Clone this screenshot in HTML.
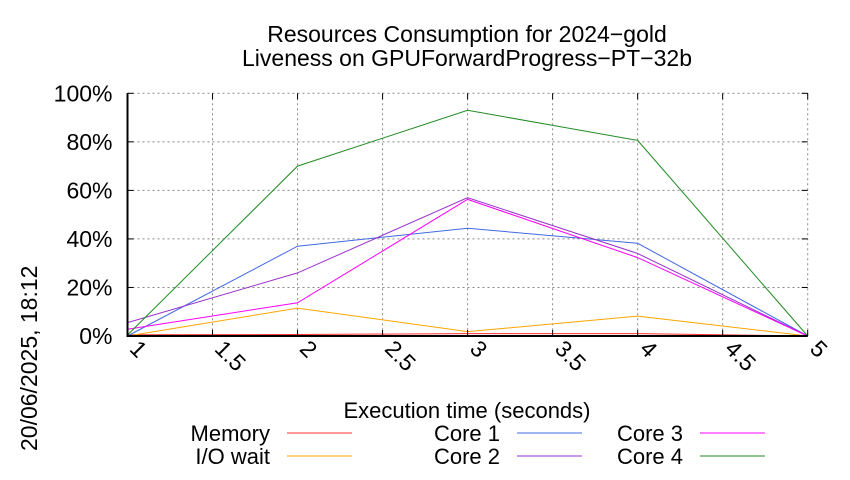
<!DOCTYPE html>
<html><head><meta charset="utf-8"><style>
body{margin:0;background:#fff;}
svg{font-family:"Liberation Sans",sans-serif;}
</style></head><body>
<svg id="chart" width="850" height="475" viewBox="0 0 850 475" xmlns="http://www.w3.org/2000/svg">
<g id="grid"></g>
<g id="series"></g>
<g id="axes"></g>
<text x="467" y="42" font-size="23" text-anchor="middle">Resources Consumption for 2024−gold</text>
<text x="467" y="66" font-size="23" text-anchor="middle">Liveness on GPUForwardProgress−PT−32b</text>
<text x="467" y="418" font-size="22" text-anchor="middle">Execution time (seconds)</text>
<text transform="translate(37,451) rotate(-90)" font-size="23">20/06/2025, 18:12</text>
<g id="legend"></g>
</svg>
<script>
const xValues=[1,2,3,4,5];
const memory=[0.5,0.6,1,1,0];
const ioWait=[0,11.5,1.8,8.2,0];
const core1=[0,37,44.4,38.2,0];
const core2=[5.5,26,57,34,0];
const core3=[2.8,13.7,56.3,32.3,0];
const core4=[0.4,70,93,80.6,0];
const xTicks=[1,1.5,2,2.5,3,3.5,4,4.5,5];
const yTicks=[0,20,40,60,80,100];
const seriesNames=["Memory","I/O wait","Core 1","Core 2","Core 3","Core 4"];
const seriesColors=["#ff3030","#ffa500","#4169e1","#9932cc","#ff00ff","#228b22"];
const seriesData=[memory,ioWait,core1,core2,core3,core4];
const X0=127.5,X1=807.7,Y0=336,Y1=93.3;
const xs=v=>X0+(v-1)/(5-1)*(X1-X0);
const ys=v=>Y0-v/100*(Y0-Y1);
const NS="http://www.w3.org/2000/svg";
function mk(tag,attrs,parent){const e=document.createElementNS(NS,tag);for(const k in attrs)e.setAttribute(k,attrs[k]);parent.appendChild(e);return e;}
const grid=document.getElementById('grid'),axes=document.getElementById('axes'),ser=document.getElementById('series'),leg=document.getElementById('legend');
xTicks.forEach(t=>{
  const x=xs(t);
  const g=mk('line',{x1:x,x2:x,y1:Y1,y2:Y0,stroke:'#888','stroke-dasharray':'2,3','stroke-width':1},grid);
  
  
  const tk=mk('line',{x1:x,x2:x,y1:Y0,y2:Y0-6,stroke:'#000','stroke-width':1},axes);
  
  
  const tk2=mk('line',{x1:x,x2:x,y1:Y1,y2:Y1+6,stroke:'#000','stroke-width':1},axes);
  
  
  const lb=mk('text',{transform:`translate(${x+1},${Y0+14}) rotate(45)`,'font-size':23},axes);
  lb.textContent=String(t);
  
  
});
yTicks.forEach(t=>{
  const y=ys(t);
  const g=mk('line',{x1:X0,x2:X1,y1:y,y2:y,stroke:'#888','stroke-dasharray':'2,3','stroke-width':1},grid);
  
  
  const tk=mk('line',{x1:X0,x2:X0+6,y1:y,y2:y,stroke:'#000','stroke-width':1},axes);
  
  
  const tk2=mk('line',{x1:X1,x2:X1-6,y1:y,y2:y,stroke:'#000','stroke-width':1},axes);
  
  
  const lb=mk('text',{x:X0-15,y:y+8,'font-size':23,'text-anchor':'end'},axes);
  lb.textContent=t+'%';
  
  
});
const ax=mk('path',{d:`M${X0},${Y1}V${Y0}H${X1}`,fill:'none',stroke:'#000','stroke-width':2},axes);


seriesData.forEach((d,i)=>{
  const p=mk('polyline',{points:d.map((v,j)=>xs(xValues[j])+','+ys(v)).join(' '),fill:'none',stroke:seriesColors[i],'stroke-width':1},ser);
  
  
});
const legPos=[[270,433],[270,456],[500,433],[500,456],[683,433],[683,456]];
seriesNames.forEach((n,i)=>{
  const [x,y]=legPos[i];
  const t=mk('text',{x:x,y:y+8,'font-size':22,'text-anchor':'end'},leg);
  t.textContent=n;
  
  
  const l=mk('line',{x1:x+17,x2:x+82,y1:y,y2:y,stroke:seriesColors[i],'stroke-width':1},leg);
  
  
});
</script>
</body></html>
